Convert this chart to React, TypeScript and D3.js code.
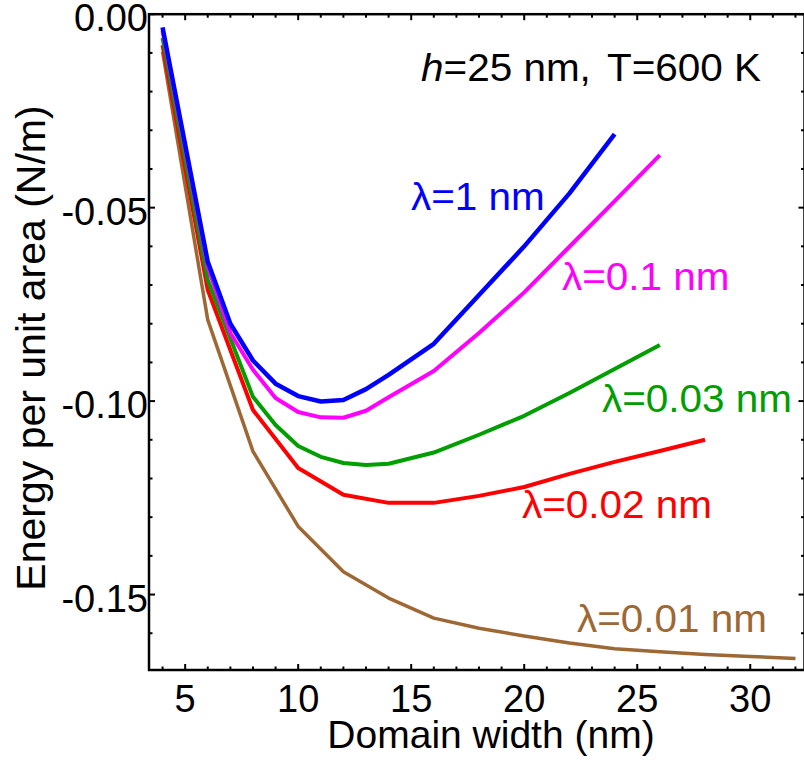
import React from "react";
import * as d3 from "d3";

// Domain width (nm) sampled for each curve
const widthsL1 = [4, 6, 7, 8, 9, 10, 11, 12, 13, 14, 16, 18, 20, 22, 24];
const widthsL01 = [4, 6, 7, 8, 9, 10, 11, 12, 13, 14, 16, 18, 20, 22, 24, 26];
const widthsL003 = [4, 6, 8, 9, 10, 11, 12, 13, 14, 16, 18, 20, 22, 24, 26];
const widthsL002 = [4, 6, 8, 10, 12, 14, 16, 18, 20, 22, 24, 26, 28];
const widthsL001 = [4, 6, 8, 10, 12, 14, 16, 18, 20, 22, 24, 26, 28, 30, 32];

// Energy per unit area (N/m)
const energyL1 = [-0.0034, -0.064, -0.08, -0.0895, -0.0955, -0.0987, -0.1001, -0.0997, -0.0969, -0.0932, -0.0852, -0.0726, -0.06, -0.0463, -0.031];
const energyL01 = [-0.0043, -0.0653, -0.0824, -0.0919, -0.0992, -0.1028, -0.1042, -0.1043, -0.1025, -0.099, -0.0922, -0.0824, -0.0719, -0.0601, -0.0483, -0.0364];
const energyL003 = [-0.0061, -0.0687, -0.0989, -0.1062, -0.1116, -0.1144, -0.116, -0.1165, -0.1162, -0.1133, -0.1087, -0.1038, -0.0979, -0.0917, -0.0855];
const energyL002 = [-0.008, -0.0713, -0.1023, -0.1173, -0.1242, -0.1263, -0.1263, -0.1245, -0.1222, -0.1188, -0.1157, -0.1129, -0.11];
const energyL001 = [-0.0097, -0.079, -0.113, -0.1324, -0.1441, -0.1509, -0.1561, -0.1587, -0.1607, -0.1625, -0.164, -0.1648, -0.1655, -0.166, -0.1665];

const xMajorTicks = [5, 10, 15, 20, 25, 30];
const yMajorTicks = [0, -0.05, -0.1, -0.15];
const yTickLabels = ["0.00", "-0.05", "-0.10", "-0.15"];

const FONT = "'Liberation Sans', Arial, Helvetica, sans-serif";

type Series = {
  name: string;
  xs: number[];
  ys: number[];
  color: string;
  width: number;
  lx: number;
  ly: number;
};

const series: Series[] = [
  { name: "λ=0.01 nm", xs: widthsL001, ys: energyL001, color: "rgb(158,104,52)", width: 3.5, lx: 577, ly: 632 },
  { name: "λ=0.02 nm", xs: widthsL002, ys: energyL002, color: "#ff0000", width: 4, lx: 522, ly: 518 },
  { name: "λ=0.03 nm", xs: widthsL003, ys: energyL003, color: "rgb(0,158,0)", width: 4, lx: 602, ly: 412 },
  { name: "λ=0.1 nm", xs: widthsL01, ys: energyL01, color: "#ff00ff", width: 4, lx: 562, ly: 290 },
  { name: "λ=1 nm", xs: widthsL1, ys: energyL1, color: "#0000ff", width: 4.5, lx: 411, ly: 210 },
];

// annotation text is drawn slightly widened
const WIDEN = 1.065;

export default function App() {
  const W = 804;
  const H = 764;
  const left = 149;
  const right = 804.5;
  const top = 14.2;
  const bottom = 670;

  const x = d3.scaleLinear().domain([3.4, 32.4]).range([left, right]);
  const y = d3.scaleLinear().domain([-0.1695, 0]).range([bottom, top]);

  const line = d3
    .line<[number, number]>()
    .x((d) => x(d[0]))
    .y((d) => y(d[1]));

  const xMinor = d3.range(4, 33, 1);
  const yMinor = d3.range(0, 17, 1).map((i) => -i * 0.01);

  const isMajorX = (v: number) => v % 5 === 0;
  const isMajorY = (v: number) => Math.abs(Math.round(v * 100)) % 5 === 0;

  return (
    <svg
      width={W}
      height={H}
      style={{ position: "absolute", left: 0, top: 0, background: "#fff" }}
      fontFamily={FONT}
    >
      <defs>
        <clipPath id="plot">
          <rect x={left} y={top} width={right - left} height={bottom - top} />
        </clipPath>
      </defs>

      {/* curves */}
      <g clipPath="url(#plot)" fill="none" strokeLinejoin="round" strokeLinecap="butt">
        {series.map((s) => (
          <path
            key={s.name}
            d={line(s.xs.map((v, i) => [v, s.ys[i]] as [number, number])) || ""}
            stroke={s.color}
            strokeWidth={s.width}
          />
        ))}
      </g>

      {/* frame */}
      <rect x={left} y={top} width={right - left} height={bottom - top} fill="none" stroke="#000" strokeWidth={2.5} />

      {/* x ticks: bottom and top, pointing inward */}
      {xMinor.map((v) => {
        const len = isMajorX(v) ? 6 : 3.5;
        return (
          <g key={"xt" + v} stroke="#000" strokeWidth={2}>
            <line x1={x(v)} x2={x(v)} y1={bottom} y2={bottom - len} />
            <line x1={x(v)} x2={x(v)} y1={top} y2={top + len} />
          </g>
        );
      })}
      {/* y ticks: left and right, pointing inward */}
      {yMinor.map((v) => {
        const len = isMajorY(v) ? 6 : 3.5;
        return (
          <g key={"yt" + v} stroke="#000" strokeWidth={2}>
            <line x1={left} x2={left + len} y1={y(v)} y2={y(v)} />
            <line x1={right} x2={right - len} y1={y(v)} y2={y(v)} />
          </g>
        );
      })}

      {/* tick labels */}
      {xMajorTicks.map((v) => (
        <text key={"xl" + v} x={x(v)} y={712} fontSize={38} textAnchor="middle" fill="#000">
          {v}
        </text>
      ))}
      {yMajorTicks.map((v, i) => (
        <text key={"yl" + v} x={148} y={y(v) + 17} fontSize={38} textAnchor="end" fill="#000">
          {yTickLabels[i]}
        </text>
      ))}

      {/* axis titles */}
      <text x={491} y={748} fontSize={39} textAnchor="middle" fill="#000">
        Domain width (nm)
      </text>
      <text
        transform="translate(45,348) rotate(-90)"
        fontSize={41}
        textAnchor="middle"
        fill="#000"
      >
        Energy per unit area (N/m)
      </text>

      {/* conditions */}
      <text transform={`translate(421,81) scale(${WIDEN},1)`} fontSize={38} fill="#000">
        <tspan fontStyle="italic">h</tspan>
        <tspan>=25 nm,</tspan>
      </text>
      <text transform={`translate(607,81) scale(${WIDEN},1)`} fontSize={38} fill="#000">
        T=600 K
      </text>

      {/* curve labels */}
      {series.map((s) => (
        <text
          key={"lab" + s.name}
          transform={`translate(${s.lx},${s.ly}) scale(${WIDEN},1)`}
          fontSize={38}
          fill={s.color}
        >
          {s.name}
        </text>
      ))}
    </svg>
  );
}
